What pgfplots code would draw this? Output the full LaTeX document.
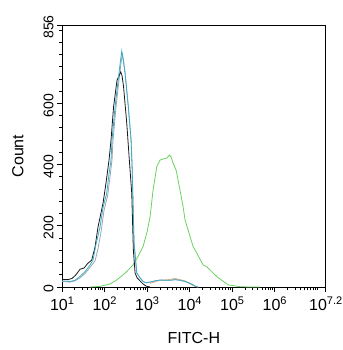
\documentclass[border=0pt]{standalone}
\usepackage{pgfplots}
\pgfplotsset{compat=1.18}
\usepackage{fontspec}
\setmainfont{Liberation Sans}
\definecolor{cyanl}{RGB}{60,170,200}
\definecolor{grayl}{RGB}{150,168,175}
\definecolor{greenl}{RGB}{105,210,95}
\definecolor{orangel}{RGB}{232,175,125}
\newcommand{\sx}[1]{10\raisebox{0.42em}{\fontsize{11}{11}\selectfont #1}}
\begin{document}
\begin{tikzpicture}
\useasboundingbox (-62pt,-63pt) rectangle (280pt,287pt);
\begin{axis}[
  scale only axis, width=263.7pt, height=262pt,
  xmin=1, xmax=7.2, ymin=0, ymax=856,
  axis line style={black, line width=0.9pt},
  tick align=outside, xtick pos=left, ytick pos=left,
  major tick length=5pt, minor tick length=3pt,
  every tick/.style={black, line width=0.7pt},
  xtick={1,2,3,4,5,6,7.2},
  xticklabels={\sx{1},\sx{2},\sx{3},\sx{4},\sx{5},\sx{6},\sx{7.2}},
  minor xtick={1.301,1.477,1.602,1.699,1.778,1.845,1.903,1.954,
    2.301,2.477,2.602,2.699,2.778,2.845,2.903,2.954,
    3.301,3.477,3.602,3.699,3.778,3.845,3.903,3.954,
    4.301,4.477,4.602,4.699,4.778,4.845,4.903,4.954,
    5.301,5.477,5.602,5.699,5.778,5.845,5.903,5.954,
    6.301,6.477,6.602,6.699,6.778,6.845,6.903,6.954,7},
  ytick={0,200,400,600,856},
  yticklabels={0,200,400,600,856},
  minor ytick={40,80,120,160,240,280,320,360,440,480,520,560,640,680,720,760,800,840},
  xticklabel style={font=\fontsize{16}{16}\selectfont, anchor=north, yshift=-1pt},
  yticklabel style={font=\fontsize{14}{14}\selectfont, rotate=90, anchor=south, xshift=-2pt},
  xlabel={FITC-H}, ylabel={Count},
  xlabel style={font=\fontsize{16}{16}\selectfont, at={(axis description cs:0.5,-0.195)}, anchor=center},
  ylabel style={font=\fontsize{16}{16}\selectfont, at={(axis description cs:-0.167,0.5)}, anchor=center, rotate=0},
  every axis plot/.append style={line width=0.8pt},
]
\addplot[greenl] table {
x y
1.659 0
1.894 2
2.129 10
2.287 23
2.482 45
2.671 72
2.788 100
2.906 132
3.000 180
3.071 230
3.141 317
3.228 393
3.306 415
3.376 418
3.464 421
3.525 431
3.565 425
3.612 405
3.682 382
3.729 350
3.847 262
3.894 219
3.965 186
4.082 132
4.129 121
4.318 72
4.405 66
4.640 34
4.906 7
5.188 1
5.424 0
5.659 0
};
\addplot[orangel] table {
x y
3.071 12
3.306 22
3.494 24
3.659 28
3.776 24
3.894 20
4.012 10
4.129 2
4.200 0
};
\addplot[grayl] table {
x y
1.000 18
1.188 16
1.306 20
1.424 30
1.541 44
1.659 64
1.776 85
1.847 125
1.917 180
1.988 250
2.075 300
2.129 360
2.176 415
2.200 480
2.270 588
2.360 700
2.395 740
2.420 760
2.447 740
2.482 700
2.560 588
2.624 480
2.647 400
2.671 270
2.694 144
2.758 46
2.835 30
2.906 18
2.976 14
3.071 16
3.188 20
3.306 22
3.424 22
3.541 22
3.659 24
3.776 22
3.894 18
4.012 12
4.129 3
4.200 0
};
\addplot[black!90] table {
x y
1.000 25
1.141 24
1.235 28
1.329 40
1.424 58
1.518 62
1.612 78
1.699 88
1.776 130
1.847 196
1.965 274
2.035 340
2.106 415
2.153 480
2.212 588
2.294 676
2.341 690
2.381 703
2.412 690
2.447 655
2.522 536
2.600 382
2.640 306
2.678 121
2.718 46
2.765 30
2.835 20
2.906 10
2.976 3
3.071 0
};
\addplot[cyanl] table {
x y
1.000 20
1.188 18
1.306 22
1.424 35
1.541 50
1.659 72
1.729 88
1.800 140
1.894 196
1.965 260
2.052 307
2.106 370
2.153 415
2.176 480
2.247 588
2.341 700
2.376 740
2.405 771
2.435 745
2.482 700
2.560 588
2.624 480
2.647 400
2.671 270
2.694 144
2.758 46
2.835 30
2.906 18
2.976 14
3.071 16
3.188 20
3.306 23
3.424 22
3.541 22
3.659 24
3.776 22
3.894 18
4.012 12
4.129 3
4.200 0
};
\end{axis}
\end{tikzpicture}
\end{document}
